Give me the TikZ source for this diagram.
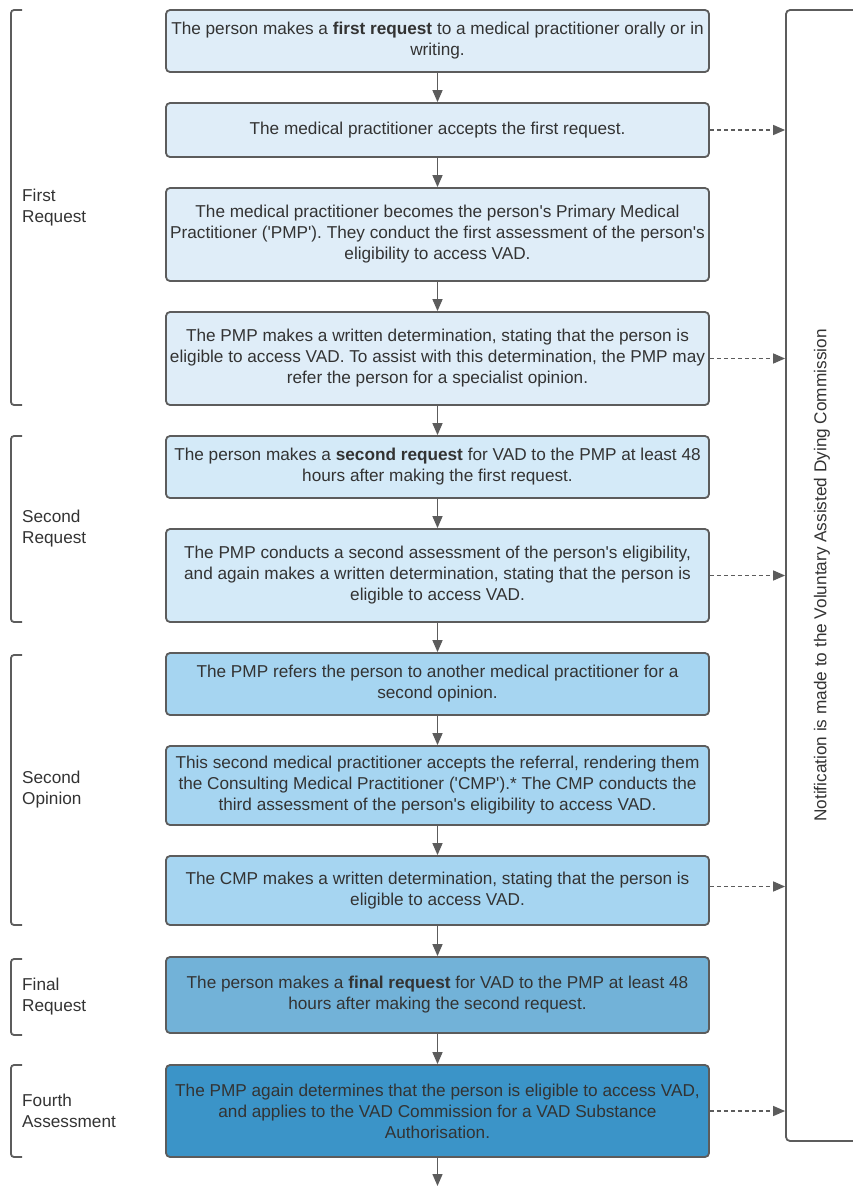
\documentclass[tikz,border=0pt]{standalone}
\usepackage{fontspec}
\setmainfont{Liberation Sans}[Ligatures=TeXOff]
\usetikzlibrary{arrows.meta}

\definecolor{palefill}{HTML}{DFEDF8}
\definecolor{lightfill}{HTML}{D4EAF8}
\definecolor{midfill}{HTML}{A6D5F1}
\definecolor{deepfill}{HTML}{72B2D8}
\definecolor{darkfill}{HTML}{3B94C8}
\definecolor{edgegray}{HTML}{5C5C5C}
\definecolor{ink}{HTML}{333333}

\begin{document}
\begin{tikzpicture}[x=1pt,y=-1pt,
  every node/.append style={text=ink,font=\fontsize{17.2}{21}\selectfont},
  step box/.style={draw=edgegray,line width=1.8pt,rounded corners=4pt,
    minimum width=543pt,inner sep=0pt,align=center},
  flow/.style={draw=edgegray,line width=1.4pt,-{Triangle[length=12pt,width=10pt]}},
  notify/.style={flow,dash pattern=on 4pt off 3pt},
  bracket/.style={draw=edgegray,line width=1.8pt,rounded corners=3pt},
  stage label/.style={align=left,anchor=west,inner sep=0pt}]

  \useasboundingbox (0,0) rectangle (853,1186);

  % Stage: first request

  \node [step box,fill=palefill,minimum height=62pt] at (437.5,41) (b1)
    {The person makes a \textbf{first request} to a medical practitioner orally or in\\writing.};
  \node [step box,fill=palefill,minimum height=54pt] at (437.5,130) (b2)
    {The medical practitioner accepts the first request.};
  \node [step box,fill=palefill,minimum height=93pt] at (437.5,234.5) (b3)
    {The medical practitioner becomes the person's Primary Medical\\Practitioner ('PMP'). They conduct the first assessment of the person's\\eligibility to access VAD.};
  \node [step box,fill=palefill,minimum height=93pt] at (437.5,358.5) (b4)
    {The PMP makes a written determination, stating that the person is\\eligible to access VAD. To assist with this determination, the PMP may\\refer the person for a specialist opinion.};

  % Stage: second request

  \node [step box,fill=lightfill,minimum height=62pt] at (437.5,467) (b5)
    {The person makes a \textbf{second request} for VAD to the PMP at least 48\\hours after making the first request.};
  \node [step box,fill=lightfill,minimum height=93pt] at (437.5,575.5) (b6)
    {The PMP conducts a second assessment of the person's eligibility,\\and again makes a written determination, stating that the person is\\eligible to access VAD.};

  % Stage: second opinion

  \node [step box,fill=midfill,minimum height=62pt] at (437.5,684) (b7)
    {The PMP refers the person to another medical practitioner for a\\second opinion.};
  \node [step box,fill=midfill,minimum height=79pt] at (437.5,785.5) (b8)
    {This second medical practitioner accepts the referral, rendering them\\the Consulting Medical Practitioner ('CMP').* The CMP conducts the\\third assessment of the person's eligibility to access VAD.};
  \node [step box,fill=midfill,minimum height=69pt] at (437.5,890.5) (b9)
    {The CMP makes a written determination, stating that the person is\\eligible to access VAD.};

  % Stage: final request and fourth assessment

  \node [step box,fill=deepfill,minimum height=76pt] at (437.5,995) (b10)
    {The person makes a \textbf{final request} for VAD to the PMP at least 48\\hours after making the second request.};
  \node [step box,fill=darkfill,minimum height=92pt] at (437.5,1111) (b11)
    {The PMP again determines that the person is eligible to access VAD,\\and applies to the VAD Commission for a VAD Substance\\Authorisation.};

  \coordinate (out) at (437.5,1186);

  % Commission on the right

  \node [draw=edgegray,line width=1.8pt,rounded corners=4pt,minimum width=120pt,
    minimum height=1131pt,inner sep=0pt] at (846,575.5) (comm) {};
  \node [rotate=90,inner sep=0pt] at (822,575.5) (commtext)
    {Notification is made to the Voluntary Assisted Dying Commission};

  % Stage labels and brackets on the left

  \node [stage label] at (22,207.5) (l1) {First\\Request};
  \node [stage label] at (22,529) (l2) {Second\\Request};
  \node [stage label] at (22,790) (l3) {Second\\Opinion};
  \node [stage label] at (22,997) (l4) {Final\\Request};
  \node [stage label] at (22,1111) (l5) {Fourth\\Assessment};

  \draw [bracket] (22,10) -- (11,10) -- (11,405) -- (22,405);
  \draw [bracket] (22,436) -- (11,436) -- (11,622) -- (22,622);
  \draw [bracket] (22,655) -- (11,655) -- (11,925) -- (22,925);
  \draw [bracket] (22,959) -- (11,959) -- (11,1035) -- (22,1035);
  \draw [bracket] (22,1065) -- (11,1065) -- (11,1157) -- (22,1157);

  % Connectors

  \draw [flow] (b1) -- (b2);
  \draw [flow] (b2) -- (b3);
  \draw [flow] (b3) -- (b4);
  \draw [flow] (b4) -- (b5);
  \draw [flow] (b5) -- (b6);
  \draw [flow] (b6) -- (b7);
  \draw [flow] (b7) -- (b8);
  \draw [flow] (b8) -- (b9);
  \draw [flow] (b9) -- (b10);
  \draw [flow] (b10) -- (b11);
  \draw [flow] (b11) -- (out);

  \draw [notify] (b2.east) -- (b2.east -| comm.west);
  \draw [notify] (b4.east) -- (b4.east -| comm.west);
  \draw [notify] (b6.east) -- (b6.east -| comm.west);
  \draw [notify] ([yshift=4pt]b9.east) -- ([yshift=4pt]b9.east -| comm.west);
  \draw [notify] (b11.east) -- (b11.east -| comm.west);

\end{tikzpicture}
\end{document}
